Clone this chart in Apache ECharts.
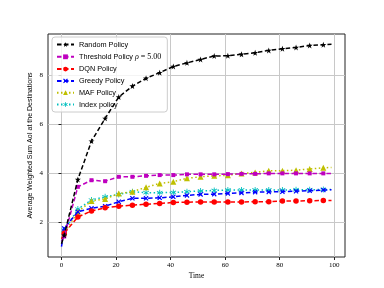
<!DOCTYPE html>
<html><head><meta charset="utf-8">
<script src="https://cdn.jsdelivr.net/npm/echarts@6/dist/echarts.min.js"></script>
<style>html,body{margin:0;padding:0;background:#fff}#c{width:384px;height:288px}</style>
</head><body><div id="c"></div>
<script>
var markerX = [1,6,11,16,21,26,31,36,41,46,51,56,61,66,71,76,81,86,91,96];
var endX = 99;
var xTicks = [0,20,40,60,80,100];
var yTicks = [2,4,6,8];
var names = ['Random Policy','Threshold Policy ρ = 5.00','DQN Policy','Greedy Policy','MAF Policy','Index policy'];
var startVals = [1.1, 1.2, 1.3, 0.98, 1.3, 1.2];
var randomVals = [1.45,3.73,5.30,6.23,7.10,7.55,7.87,8.10,8.35,8.50,8.64,8.78,8.79,8.85,8.91,9.01,9.08,9.13,9.21,9.24];
var thresholdVals = [1.40,3.43,3.70,3.66,3.84,3.84,3.88,3.91,3.91,3.94,3.94,3.94,3.95,3.96,3.96,3.98,3.98,3.98,3.98,3.98];
var dqnVals = [1.53,2.20,2.44,2.57,2.64,2.68,2.72,2.75,2.79,2.80,2.81,2.81,2.81,2.81,2.82,2.82,2.85,2.85,2.86,2.87];
var greedyVals = [1.73,2.41,2.55,2.64,2.82,2.96,2.96,2.98,3.02,3.08,3.12,3.13,3.16,3.18,3.21,3.22,3.23,3.25,3.27,3.30];
var mafVals = [1.53,2.41,2.85,2.93,3.16,3.23,3.41,3.57,3.64,3.78,3.84,3.88,3.90,3.98,4.02,4.09,4.09,4.11,4.16,4.21];
var indexVals = [1.66,2.52,2.89,3.02,3.12,3.23,3.19,3.19,3.20,3.23,3.26,3.28,3.30,3.30,3.30,3.30,3.30,3.31,3.31,3.32];
var endVals = [9.26, 3.98, 2.87, 3.31, 4.22, 3.32];

var starPath = 'path://M12,0 L14.9,8.6 L24,8.6 L16.6,14 L19.4,22.6 L12,17.3 L4.6,22.6 L7.4,14 L0,8.6 L9.1,8.6 Z';
var xPath = 'path://M0,2 L2,0 L6,4 L10,0 L12,2 L8,6 L12,10 L10,12 L6,8 L2,12 L0,10 L4,6 Z';
var triPath = 'path://M6,0 L12,11 L0,11 Z';
var asterPath = 'path://M5.2,0 L6.8,0 L6.8,4.5 L10.7,2.2 L11.5,3.6 L7.6,6 L11.5,8.4 L10.7,9.8 L6.8,7.5 L6.8,12 L5.2,12 L5.2,7.5 L1.3,9.8 L0.5,8.4 L4.4,6 L0.5,3.6 L1.3,2.2 L5.2,4.5 Z';

var allVals = [randomVals, thresholdVals, dqnVals, greedyVals, mafVals, indexVals];
var colors = ['#000000','#bf00bf','#ff0000','#0000ff','#bfbf00','#00bfbf'];
var symbols = [starPath,'rect',  'circle',xPath,triPath,asterPath];
var sizes = [6,4,5.5,5,6,6];
var dashes = [[4.5,2.5],[4.5,2.5],[4.5,2.5],[4.5,2.5],[1.5,2.5],[1.5,2.5]];

var series = allVals.map(function(vals, i){
  var data = [{value:[0,startVals[i]], symbol:'none'}];
  vals.forEach(function(v, j){ data.push([markerX[j], v]); });
  data.push({value:[endX, endVals[i]], symbol:'none'});
  return {
    name: names[i], type:'line', data: data, symbol: symbols[i], symbolSize: sizes[i],
    showAllSymbol: true, animation:false,
    lineStyle:{color:colors[i], width:1.5, type:dashes[i]},
    itemStyle:{color:colors[i]}, z: 10 - i
  };
});

var chart = echarts.init(document.getElementById('c'), null, {renderer:'canvas'});
chart.setOption({
  animation:false,
  grid:{left:48, right:39, top:34, bottom:31, show:true, borderColor:'#222', borderWidth:1, backgroundColor:'#fff'},
  legend:{
    left:52, top:37, orient:'vertical', itemWidth:17, itemHeight:6, itemGap:4.8,
    backgroundColor:'rgba(255,255,255,0.8)', borderColor:'#cccccc', borderWidth:1, borderRadius:3,
    padding:[4,6,4,4],
    textStyle:{fontFamily:'Liberation Sans', fontSize:7.3, color:'#000',
      rich:{m:{fontFamily:'Liberation Serif', fontSize:8, color:'#000'}, i:{fontFamily:'Liberation Serif', fontStyle:'italic', fontSize:8, color:'#000'}}},
    formatter:function(n){
      var k = n.indexOf('ρ');
      if (k < 0) return n;
      return n.slice(0,k) + '{i|ρ}{m|' + n.slice(k+1) + '}';
    },
    data:names
  },
  xAxis:{
    type:'value', min:-4.95, max:103.95,
    name:'Time', nameLocation:'middle', nameGap:15, nameMoveOverlap:false,
    nameTextStyle:{fontFamily:'Liberation Serif', fontSize:7.5, color:'#000'},
    axisLine:{show:false},
    axisTick:{show:true, inside:false, length:3, customValues:xTicks, lineStyle:{color:'#222'}},
    axisLabel:{customValues:xTicks, fontFamily:'Liberation Serif', fontSize:7, color:'#000', margin:5},
    splitLine:{show:true, lineStyle:{color:'#c8c8c8', width:1}}
  },
  yAxis:{
    type:'value', min:0.56, max:9.68,
    name:'Average Weighted Sum AoI at the Destinations', nameLocation:'middle', nameGap:14, nameMoveOverlap:false,
    nameTextStyle:{fontFamily:'Liberation Sans', fontSize:7, color:'#000'},
    axisLine:{show:false},
    axisTick:{show:true, inside:false, length:3, customValues:yTicks, lineStyle:{color:'#222'}},
    axisLabel:{customValues:yTicks, fontFamily:'Liberation Serif', fontSize:7, color:'#000', margin:5},
    splitLine:{show:true, lineStyle:{color:'#c8c8c8', width:1}}
  },
  series: series
});
</script>
</body></html>
